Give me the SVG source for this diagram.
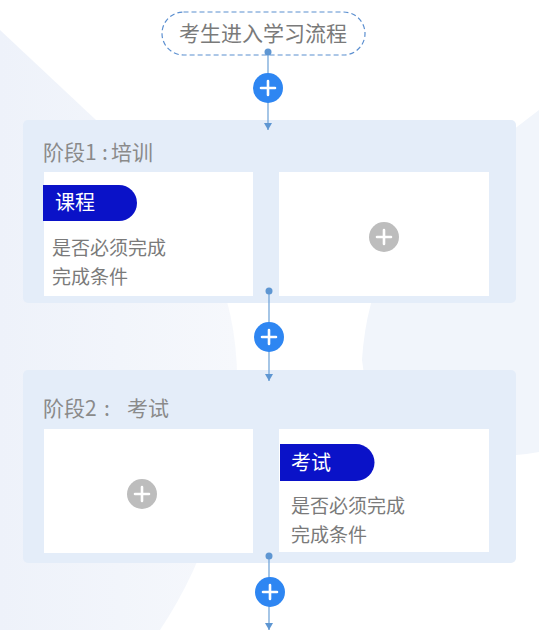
<svg xmlns="http://www.w3.org/2000/svg" width="539" height="630" viewBox="0 0 539 630">
<defs>
<style>
.t{font-family:"Noto Sans CJK SC","Noto Sans",sans-serif;}
.title{font-size:21px;fill:#8a8a8a;}
.desc{font-size:19px;fill:#7a7a7a;}
.tag{font-size:20px;fill:#ffffff;}
.stage{fill:#e4edf9;}
.card{fill:#ffffff;}
.line{stroke:#6a9fd6;stroke-width:1.2;fill:none;}
.dot{fill:#5e96d2;}
.addb{fill:#2e86f2;}
.addg{fill:#bdbdbd;}
.pl{stroke:#ffffff;stroke-width:2.6;stroke-linecap:round;}
.tagbg{fill:#0a12c8;}
</style>
<marker id="arr" markerWidth="8" markerHeight="8" refX="7" refY="4" orient="auto" markerUnits="userSpaceOnUse">
<path d="M0,0 L7,4 L0,8 Z" fill="#5e96d2"/>
</marker>
<linearGradient id="bgl" x1="0" y1="0" x2="1" y2="0">
<stop offset="0" stop-color="#eef2fa"/>
<stop offset="1" stop-color="#f6f8fc"/>
</linearGradient>
</defs>
<rect width="539" height="630" fill="#ffffff"/>
<g id="background">
<path d="M0,30 L160,180 Q250,280 235,420 Q220,540 160,630 L0,630 Z" fill="url(#bgl)"/>
<path d="M539,110 L480,155 Q370,230 362,360 Q370,440 470,455 Q510,458 539,452 Z" fill="#f1f5fb"/>
</g>
<g id="start">
<rect x="162" y="12" width="203" height="43" rx="21.5" fill="#ffffff" fill-opacity="0.6" stroke="#5b8fd0" stroke-width="1.2" stroke-dasharray="5,3"/>
<text class="t" x="263" y="41" text-anchor="middle" font-size="21" fill="#7a7a7a">考生进入学习流程</text>
</g>
<g id="stage1">
<rect class="stage" x="23" y="120" width="493" height="183" rx="5"/>
<text class="t title" x="43" y="160">阶段1<tspan x="102">:</tspan><tspan x="111">培训</tspan></text>
</g>
<g id="course-card">
<rect class="card" x="44" y="172" width="209" height="124"/>
<path class="tagbg" d="M43,185 H119 A18,18 0 0 1 119,221 H43 Z"/>
<text class="t tag" x="55" y="210">课程</text>
<text class="t desc" x="52" y="255">是否必须完成</text>
<text class="t desc" x="52" y="284">完成条件</text>
</g>
<g id="stage1-add-card">
<rect class="card" x="279" y="172" width="210" height="124"/>
<circle class="addg" cx="384" cy="237" r="15"/>
<path class="pl" d="M377,237 H391 M384,230 V244"/>
</g>
<g id="stage2">
<rect class="stage" x="23" y="370" width="493" height="193" rx="5"/>
<text class="t title" x="43" y="416">阶段2<tspan x="104">:</tspan><tspan x="127">考试</tspan></text>
</g>
<g id="stage2-add-card">
<rect class="card" x="44" y="429" width="209" height="124"/>
<circle class="addg" cx="142" cy="494" r="15"/>
<path class="pl" d="M135,494 H149 M142,487 V501"/>
</g>
<g id="exam-card">
<rect class="card" x="279" y="429" width="210" height="123"/>
<path class="tagbg" d="M280,444 H356 A18.5,18.5 0 0 1 356,481 H280 Z"/>
<text class="t tag" x="291" y="470">考试</text>
<text class="t desc" x="291" y="513">是否必须完成</text>
<text class="t desc" x="291" y="542">完成条件</text>
</g>
<g id="connectors">
<line class="line" x1="268" y1="52" x2="268" y2="130" marker-end="url(#arr)"/>
<line class="line" x1="269" y1="291" x2="269" y2="381" marker-end="url(#arr)"/>
<line class="line" x1="269" y1="556" x2="269" y2="630" marker-end="url(#arr)"/>
<circle class="dot" cx="268" cy="52" r="3.5"/>
<circle class="dot" cx="269" cy="291" r="3.5"/>
<circle class="dot" cx="269" cy="556" r="3.5"/>
</g>
<g id="add1">
<circle class="addb" cx="268" cy="88" r="15"/>
<path class="pl" d="M261,88 H275 M268,81 V95"/>
</g>
<g id="add2">
<circle class="addb" cx="269" cy="337" r="15"/>
<path class="pl" d="M262,337 H276 M269,330 V344"/>
</g>
<g id="add3">
<circle class="addb" cx="270" cy="592" r="15"/>
<path class="pl" d="M263,592 H277 M270,585 V599"/>
</g>
</svg>
